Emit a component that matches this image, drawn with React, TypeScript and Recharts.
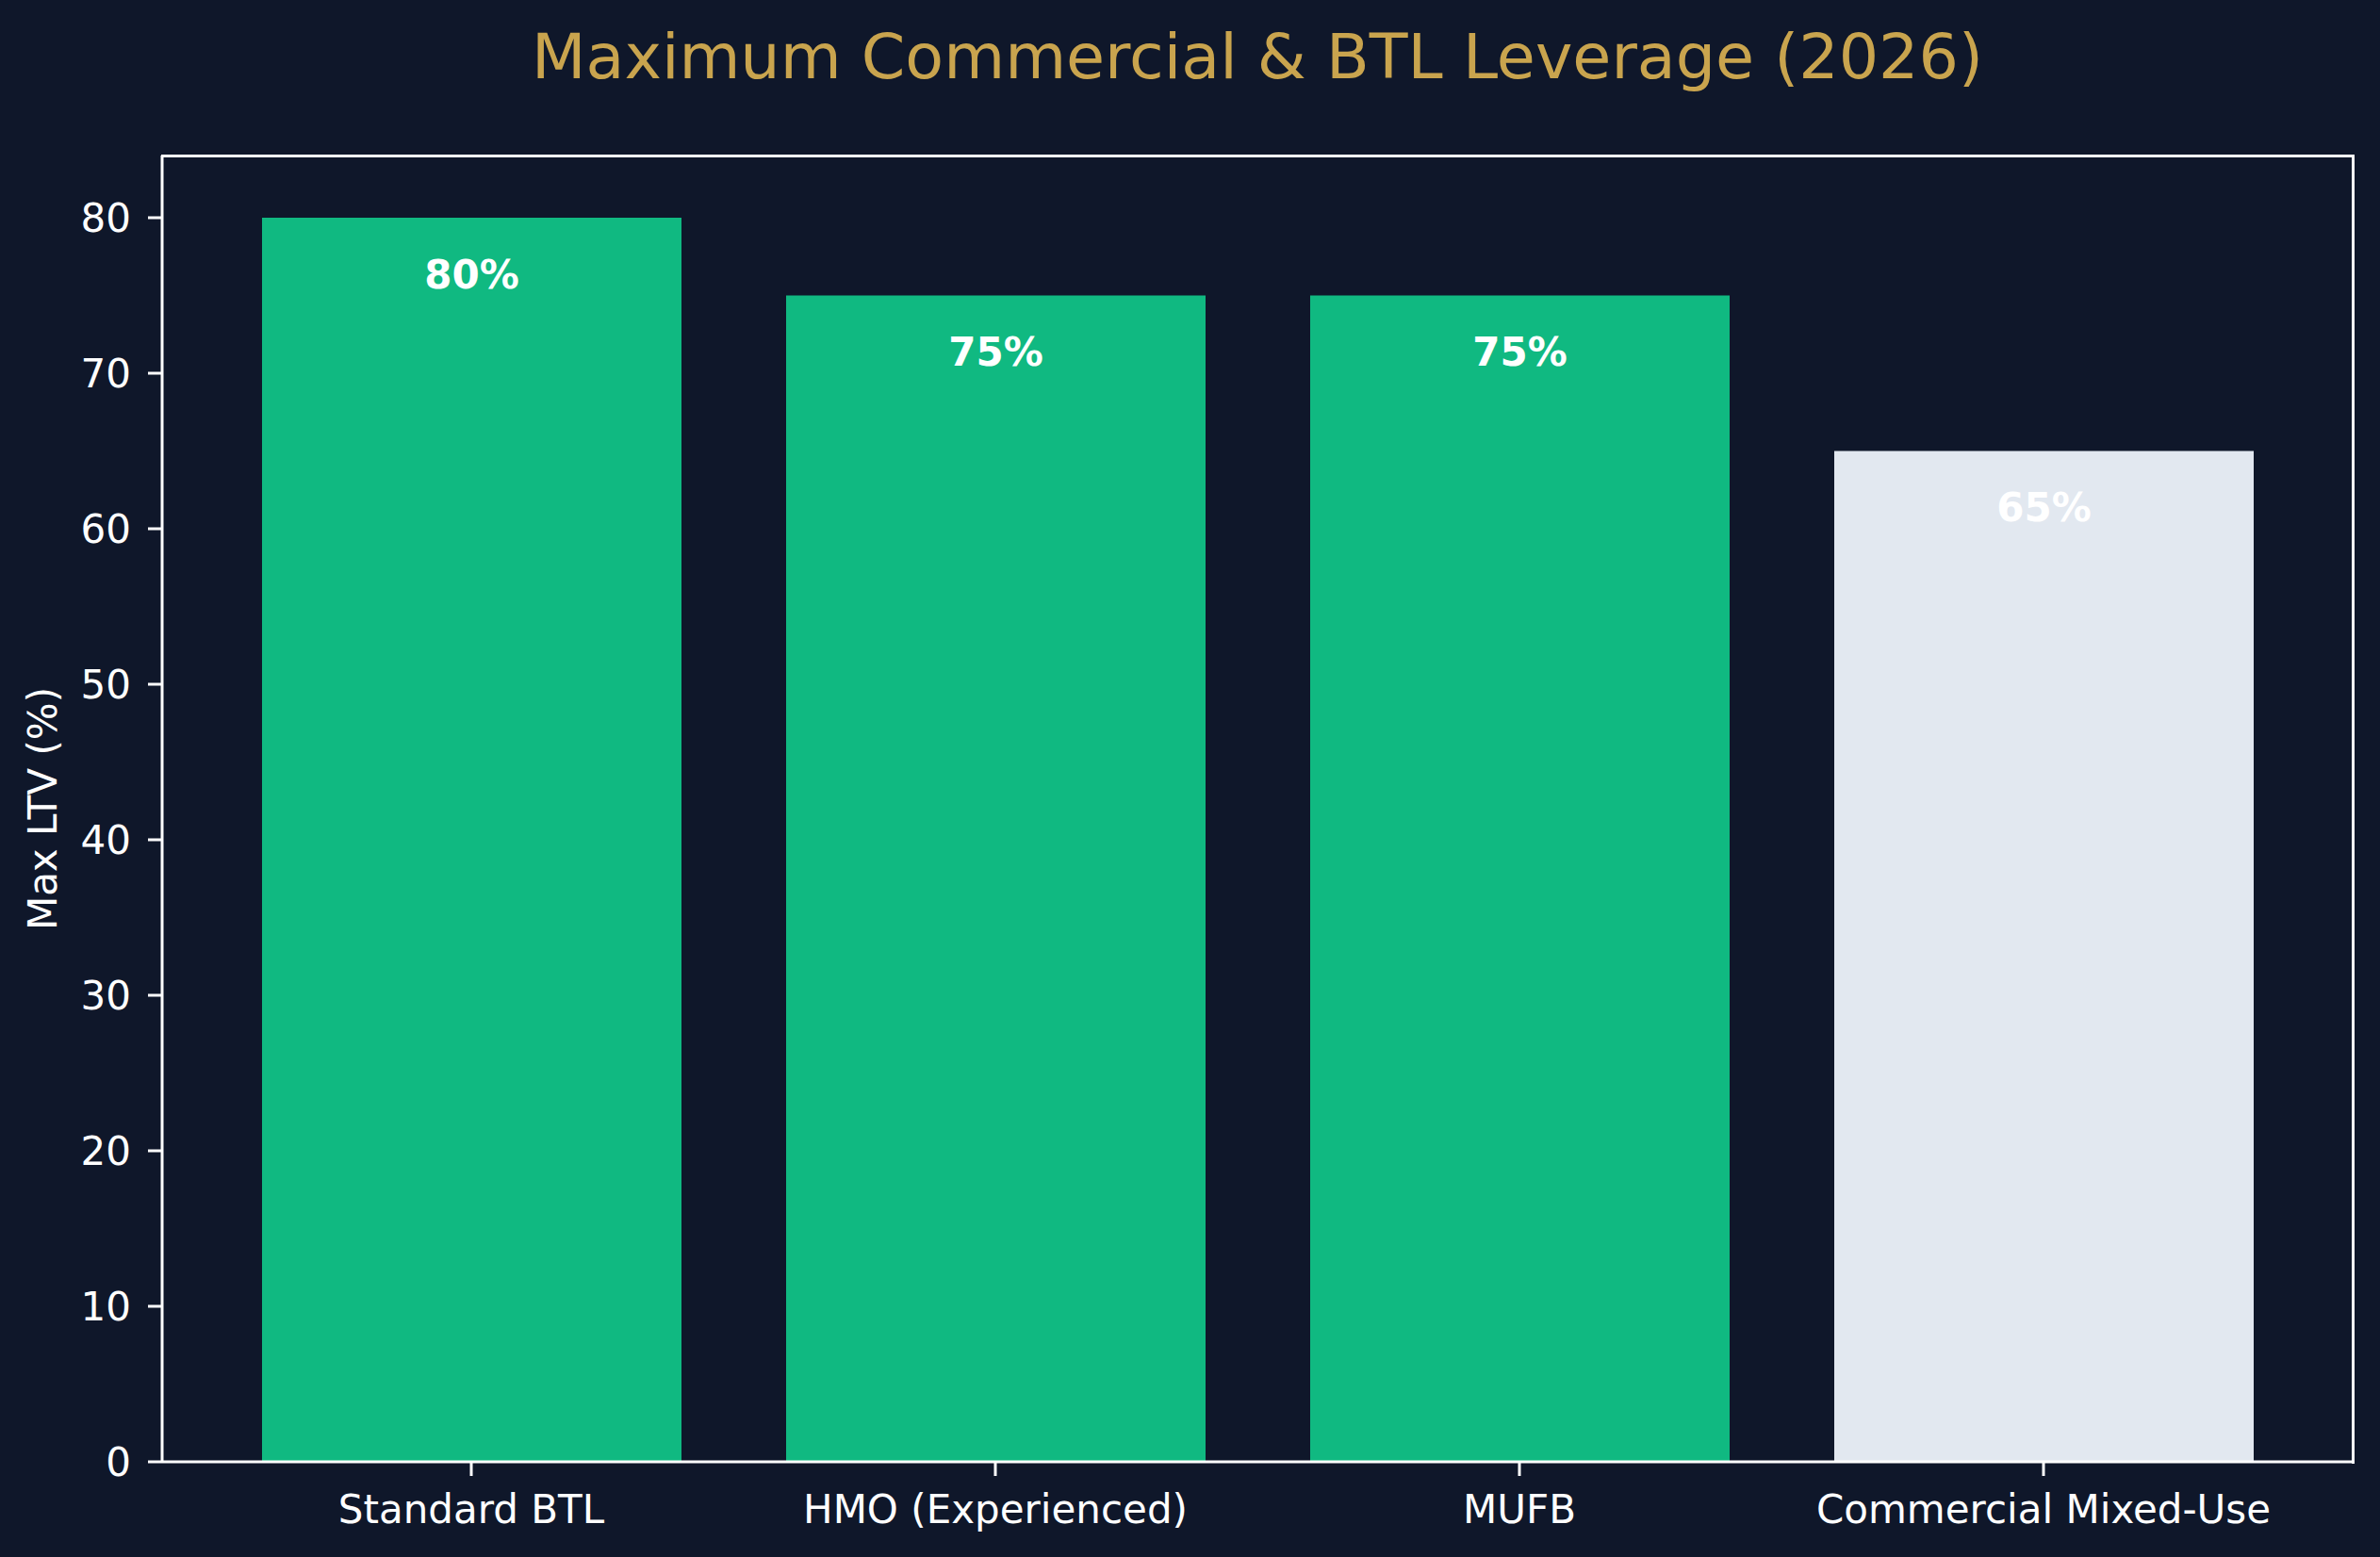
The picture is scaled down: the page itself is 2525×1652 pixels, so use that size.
import React from "react";
import { BarChart, Bar, XAxis, YAxis, Cell, LabelList } from "recharts";

const categories = ["Standard BTL", "HMO (Experienced)", "MUFB", "Commercial Mixed-Use"];
const maxLtv = [80, 75, 75, 65];
const barColors = ["#10b981", "#10b981", "#10b981", "#e2e8f0"];
const yTicks = [0, 10, 20, 30, 40, 50, 60, 70, 80];

const data = categories.map((name, i) => ({ name, ltv: maxLtv[i] }));

const BG = "#0f172a";
const FONT = "'DejaVu Sans', sans-serif";

// plot box
const PLOT = { left: 172, top: 165, right: 29, bottom: 101 };

const XTick = ({ x, y, payload }: any) => (
  <text x={x} y={y} dy="0.71em" textAnchor="middle" fill="#ffffff" fontSize={42} fontFamily={FONT}>
    {payload.value}
  </text>
);

const YTick = ({ x, y, payload }: any) => (
  <text x={x} y={y} dy="0.36em" textAnchor="end" fill="#ffffff" fontSize={42} fontFamily={FONT}>
    {payload.value}
  </text>
);

// value label sits inside the bar, just below its top
const BarValue = ({ x, y, width, value }: any) => (
  <text
    x={x + width / 2}
    y={y + 60}
    dominantBaseline="central"
    textAnchor="middle"
    fill="#ffffff"
    fontSize={42}
    fontWeight="bold"
    fontFamily={FONT}
  >
    {`${value}%`}
  </text>
);

export default function App() {
  return (
    <div style={{ position: "absolute", left: 0, top: 0, width: 2525, height: 1652, background: BG, fontFamily: FONT }}>
      <div
        style={{
          position: "absolute",
          left: PLOT.left,
          width: 2525 - PLOT.left - PLOT.right,
          top: 20,
          textAlign: "center",
          color: "#c9a44e",
          fontSize: 66.7,
          lineHeight: "80px",
        }}
      >
        Maximum Commercial &amp; BTL Leverage (2026)
      </div>
      <div
        style={{
          position: "absolute",
          left: 45,
          top: 858,
          transform: "translate(-50%, -50%) rotate(-90deg)",
          color: "#ffffff",
          fontSize: 42,
          whiteSpace: "nowrap",
        }}
      >
        Max LTV (%)
      </div>
      <BarChart
        width={2525}
        height={1652}
        data={data}
        margin={{ top: PLOT.top, right: PLOT.right, bottom: 0, left: 0 }}
        style={{ position: "absolute", left: 0, top: 0 }}
      >
        <XAxis
          dataKey="name"
          height={PLOT.bottom}
          padding={{ left: 50, right: 50 }}
          tick={<XTick />}
          tickSize={15}
          tickMargin={20}
          axisLine={{ stroke: "#ffffff", strokeWidth: 3 }}
          tickLine={{ stroke: "#ffffff", strokeWidth: 3 }}
          interval={0}
        />
        <YAxis
          width={PLOT.left}
          domain={[0, 84]}
          ticks={yTicks}
          tick={<YTick />}
          tickSize={15}
          tickMargin={18}
          axisLine={{ stroke: "#ffffff", strokeWidth: 3 }}
          tickLine={{ stroke: "#ffffff", strokeWidth: 3 }}
        />
        <Bar dataKey="ltv" barSize={445} isAnimationActive={false}>
          {data.map((d, i) => (
            <Cell key={d.name} fill={barColors[i]} />
          ))}
          <LabelList dataKey="ltv" content={<BarValue />} />
        </Bar>
      </BarChart>
      {/* top and right spines */}
      <div
        style={{
          position: "absolute",
          left: PLOT.left - 1.5,
          top: PLOT.top - 1.5,
          width: 2525 - PLOT.left - PLOT.right,
          height: 1652 - PLOT.top - PLOT.bottom,
          borderTop: "3px solid #ffffff",
          borderRight: "3px solid #ffffff",
          pointerEvents: "none",
        }}
      />
    </div>
  );
}
